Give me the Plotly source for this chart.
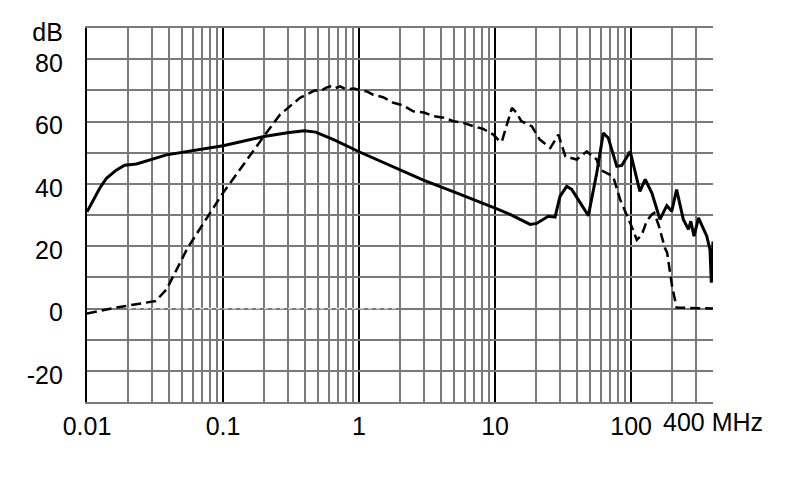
import numpy as np
import plotly.graph_objects as go

# ---- data ----
solid_f = [0.01, 0.0124, 0.0139, 0.0164, 0.0189, 0.0231, 0.0384, 0.1, 0.135, 0.2, 0.298, 0.395,
           0.48, 0.656, 1.0, 1.69, 2.0, 2.97, 5.2, 9.2, 10.0, 12.9, 18.1, 20.2, 24.6, 27.6, 30.0,
           33.6, 36.6, 48.5, 55.9, 62.5, 68.0, 78.5, 85.4, 98.4, 110, 116, 127, 142, 163, 183,
           199, 216, 242, 264, 275, 290, 313, 360, 380, 389, 400]
solid_db = [31.0, 38.6, 41.8, 44.4, 46.0, 46.4, 49.3, 52.2, 53.5, 55.2, 56.4, 57.0,
            56.6, 54.1, 50.3, 46.0, 44.6, 41.2, 37.1, 33.0, 32.2, 30.2, 27.0, 27.3, 29.6, 29.3, 36.0,
            39.2, 38.2, 29.8, 43.5, 56.3, 54.7, 45.6, 45.9, 50.4, 41.4, 37.6, 41.4, 37.1, 28.6, 33.0,
            31.2, 38.2, 28.6, 25.4, 28.0, 23.2, 29.1, 23.2, 18.9, 8.3, 21.5]

dashed_f = [0.01, 0.0164, 0.032, 0.0384, 0.055, 0.1, 0.2, 0.262, 0.368, 0.474, 0.52, 0.57,
            0.612, 0.66, 0.725, 0.78, 0.835, 0.92, 1.02, 1.15, 1.27, 1.5, 1.79, 2.1, 2.5, 3.0,
            3.52, 4.2, 4.94, 5.8, 6.93, 8.2, 9.7, 10.8, 11.2, 12.1, 13.3, 14.4, 15.6, 18.6,
            21.3, 25.5, 29.2, 32.9, 39.8, 47.2, 55.9, 59.0, 73.8, 83.0, 93.0, 103, 110, 120,
            130, 142, 148, 160, 177, 184, 200, 216, 400]
dashed_db = [-1.6, 0.3, 2.4, 6.1, 19.5, 37.1, 55.3, 62.2, 67.6, 70.0, 69.7, 70.8,
             71.3, 70.6, 71.3, 70.6, 70.4, 70.6, 70.0, 69.6, 68.6, 67.8, 66.0, 65.2, 63.3, 62.9,
             61.7, 61.2, 60.1, 59.6, 58.5, 57.6, 55.8, 53.7, 53.5, 58.5, 64.4, 62.8, 60.1, 58.5,
             54.2, 51.5, 55.8, 48.8, 47.8, 50.4, 47.8, 44.6, 42.4, 35.0, 30.2, 25.4, 22.0, 23.7,
             28.0, 30.2, 30.7, 26.5, 19.5, 17.9, 7.2, 0.3, 0.0]

ref_f = [0.02, 2.0]
ref_db = [0.0, 0.0]

x_major = [0.01, 0.1, 1, 10, 100]
x_major_text = ["0.01", "0.1", "1", "10", "100"]
x_end = 400
x_end_text = "400 MHz"
x_minor = [m * d for d in [0.01, 0.1, 1, 10] for m in range(2, 10)] + [200, 300, 400]
y_ticks = list(range(-30, 91, 10))
y_text = ["", "-20", "", "0", "", "20", "", "40", "", "60", "", "80", "dB"]

FONT = "Liberation Sans"
FS = 25

fig = go.Figure()
fig.add_trace(go.Scatter(x=ref_f, y=ref_db, mode="lines",
                         line=dict(color="#d0d0d0", width=1.5, dash="4px,4px"),
                         hoverinfo="skip", showlegend=False))
fig.add_trace(go.Scatter(x=dashed_f, y=dashed_db, mode="lines",
                         line=dict(color="black", width=2.5, dash="10px,5px"),
                         showlegend=False))
fig.add_trace(go.Scatter(x=solid_f, y=solid_db, mode="lines",
                         line=dict(color="black", width=3), showlegend=False))

fig.add_annotation(x=np.log10(x_end), xref="x", y=0, yref="paper",
                   text=x_end_text, showarrow=False, yanchor="top", yshift=-4,
                   font=dict(family=FONT, size=FS, color="black"))

fig.update_layout(
    width=782, height=491,
    margin=dict(l=79, r=77, t=20, b=97),
    paper_bgcolor="white", plot_bgcolor="white",
    font=dict(family=FONT, size=FS, color="black"),
    xaxis=dict(
        type="log", range=[np.log10(0.01), np.log10(400)],
        tickmode="array", tickvals=x_major, ticktext=x_major_text,
        showgrid=True, gridcolor="black", gridwidth=2.2,
        minor=dict(tickmode="array", tickvals=x_minor, showgrid=True,
                   gridcolor="#7a7a7a", gridwidth=1.6, ticks=""),
        ticks="", zeroline=False,
        showline=True, mirror=True, linecolor="#7a7a7a", linewidth=1.6,
        ticklabelstandoff=1, automargin=False,
    ),
    yaxis=dict(
        range=[-30, 90.01], tickmode="array", tickvals=y_ticks, ticktext=y_text,
        showgrid=True, gridcolor="#7a7a7a", gridwidth=1.6,
        zeroline=False, showline=True, linecolor="black", linewidth=2.2, mirror=False,
        ticks="", ticklabelstandoff=17, ticklabelshift=4, automargin=False,
    ),
)

fig.write_html("out.html")
